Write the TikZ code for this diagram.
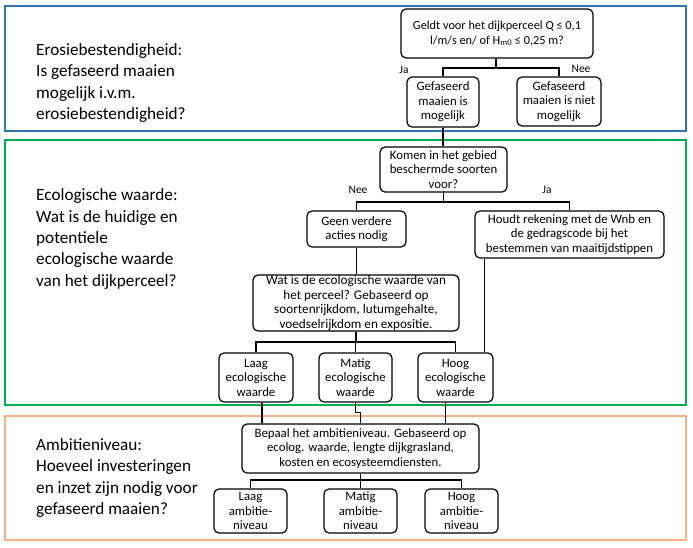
\documentclass[tikz,border=0pt]{standalone}
\usepackage{fontspec}
\setmainfont{Carlito}
\definecolor{fblue}{RGB}{46,117,182}
\definecolor{fgreen}{RGB}{0,176,80}
\definecolor{forange}{RGB}{244,177,131}
\tikzset{
  frame/.style={line width=1.6pt},
  box/.style={draw, rounded corners=5pt, line width=1.2pt, align=center, inner sep=0pt,
    font=\fontsize{12.8}{14.5}\selectfont},
  lefttext/.style={anchor=west, align=left, inner sep=0pt, font=\fontsize{17.2}{21.3}\selectfont},
  lbl/.style={inner sep=0pt, font=\fontsize{11.5}{12}\selectfont},
  conn/.style={line width=1.2pt},
}
\begin{document}
\begin{tikzpicture}[x=1pt,y=-1pt]
\useasboundingbox (0,0) rectangle (693,547);
% frames
\draw[frame, fblue] (5,6) rectangle (686,131);
\draw[frame, fgreen] (5,140) rectangle (686,405);
\draw[frame, forange] (5,416) rectangle (686,540);
% left texts
\node[lefttext] (t1) at (36,83) {Erosiebestendigheid:\\Is gefaseerd maaien\\mogelijk i.v.m.\\erosiebestendigheid?};
\node[lefttext] (t2) at (36,239) {Ecologische waarde:\\Wat is de huidige en\\potentiele\\ecologische waarde\\van het dijkperceel?};
\node[lefttext] (t3) at (36,478) {Ambitieniveau:\\Hoeveel investeringen\\en inzet zijn nodig voor\\gefaseerd maaien?};
% boxes
\node[box, minimum width=192pt, minimum height=49pt, font=\fontsize{12.3}{14.5}\selectfont] (q1) at (497,33.5) {Geldt voor het dijkperceel Q ≤ 0,1\\l/m/s en/ of H\textsubscript{m0} ≤ 0,25 m?};
\node[box, minimum width=72pt, minimum height=50pt] (g1) at (443,102) {Gefaseerd\\maaien is\\mogelijk};
\node[box, minimum width=84pt, minimum height=49pt] (g2) at (559,101.5) {Gefaseerd\\maaien is niet\\mogelijk};
\node[box, minimum width=127pt, minimum height=45pt] (komen) at (443.5,169.5) {Komen in het gebied\\beschermde soorten\\voor?};
\node[box, minimum width=99pt, minimum height=36pt] (geen) at (356.5,229) {Geen verdere\\acties nodig};
\node[box, minimum width=189pt, minimum height=47pt] (houdt) at (569.5,234.5) {Houdt rekening met de Wnb en\\de gedragscode bij het\\bestemmen van maaitijdstippen};
\node[box, minimum width=206pt, minimum height=56pt, font=\fontsize{13.2}{14.5}\selectfont] (wat) at (356,303) {Wat is de ecologische waarde van\\het perceel? Gebaseerd op\\soortenrijkdom, lutumgehalte,\\voedselrijkdom en expositie.};
\node[box, minimum width=74pt, minimum height=49pt] (laag) at (256,377.5) {Laag\\ecologische\\waarde};
\node[box, minimum width=73pt, minimum height=49pt] (matig) at (355.5,377.5) {Matig\\ecologische\\waarde};
\node[box, minimum width=75pt, minimum height=49pt] (hoog) at (455.5,377.5) {Hoog\\ecologische\\waarde};
\node[box, minimum width=237pt, minimum height=49pt] (bepaal) at (360.5,448.5) {Bepaal het ambitieniveau. Gebaseerd op\\ecolog. waarde, lengte dijkgrasland,\\kosten en ecosysteemdiensten.};
\node[box, minimum width=73pt, minimum height=44pt] (la) at (250.5,511) {Laag\\ambitie-\\niveau};
\node[box, minimum width=73pt, minimum height=44pt] (ma) at (360.5,511) {Matig\\ambitie-\\niveau};
\node[box, minimum width=73pt, minimum height=44pt] (ha) at (461.5,511) {Hoog\\ambitie-\\niveau};
% labels
\node[lbl] (ja1) at (404,70) {Ja};
\node[lbl] (nee1) at (581,69) {Nee};
\node[lbl] (nee2) at (358,190) {Nee};
\node[lbl] (ja2) at (547,190) {Ja};
% connectors
\coordinate (j1) at (496,68);
\draw[conn] (q1.south -| j1) -- (j1);
\draw[conn] (g1.north) |- (j1) -| (g2.north);
\draw[conn] (g1.south) -- (g1.south |- komen.north);
\coordinate (j2) at (443.5,202);
\draw[conn] (komen.south) -- (j2);
\draw[conn] (geen.north) |- (j2) -| (houdt.north);
\draw[conn] (geen.south) -- (geen.south |- wat.north);
\draw[conn] ([xshift=10pt]houdt.south west) -- ([xshift=10pt]houdt.south west |- hoog.north);
\coordinate (j3) at (356,342);
\draw[conn] (wat.south) -- (j3);
\draw[conn] (laag.north) |- (j3) -| (hoog.north);
\draw[conn] (matig.north) -- (matig.north |- j3);
\draw[conn] ([xshift=6pt]laag.south) -- ([xshift=6pt]laag.south |- bepaal.north);
\draw[conn] (matig.south) |- ([yshift=11pt]bepaal.north) -- (bepaal.north);
\draw[conn] ([xshift=-10pt]hoog.south) -- ([xshift=-10pt]hoog.south |- bepaal.north);
\coordinate (j4) at (360.5,480);
\draw[conn] (bepaal.south) -- (j4);
\draw[conn] (la.north) |- (j4) -| (ha.north);
\draw[conn] (ma.north) -- (ma.north |- j4);
\end{tikzpicture}
\end{document}
